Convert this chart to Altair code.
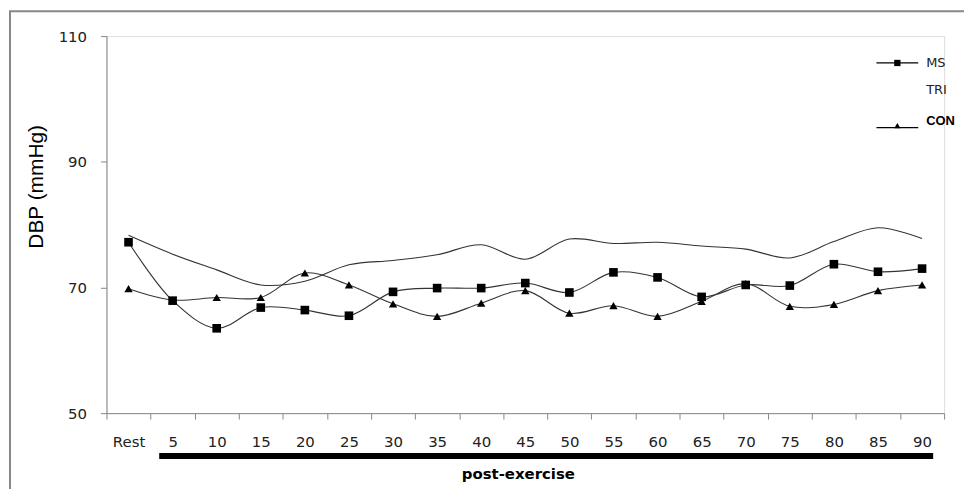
import altair as alt
import pandas as pd

categories = ["Rest", "5", "10", "15", "20", "25", "30", "35", "40", "45",
              "50", "55", "60", "65", "70", "75", "80", "85", "90"]
ms = [77.2, 67.9, 63.5, 66.8, 66.4, 65.5, 69.3, 69.9, 69.9, 70.7,
      69.2, 72.4, 71.6, 68.5, 70.4, 70.3, 73.7, 72.5, 73.0]
tri = [78.3, 75.3, 72.8, 70.4, 71.0, 73.6, 74.3, 75.2, 76.8, 74.5,
       77.7, 77.0, 77.2, 76.6, 76.1, 74.7, 77.3, 79.5, 77.8]
con = [69.8, 68.0, 68.4, 68.4, 72.3, 70.4, 67.4, 65.4, 67.5, 69.5,
       65.9, 67.1, 65.4, 67.8, 70.6, 67.0, 67.3, 69.5, 70.4]
y_ticks = [50, 70, 90, 110]

rows = []
for name, vals in (("MS", ms), ("TRI", tri), ("CON", con)):
    for c, v in zip(categories, vals):
        rows.append({"time": c, "dbp": v, "series": name})
df = pd.DataFrame(rows)
one = alt.Data(values=[{"k": 1}])

x_enc = alt.X("time:N", sort=categories, bandPosition=0.5,
              scale=alt.Scale(type="band", paddingInner=0, paddingOuter=0),
              axis=alt.Axis(title=None, tickBand="extent", labelAngle=0,
                            labelFont="DejaVu Sans", labelFontSize=15,
                            labelColor="#222", labelPadding=16, tickSize=6,
                            tickColor="#888", domainColor="#888", grid=False))
y_enc = alt.Y("dbp:Q", scale=alt.Scale(domain=[50, 110], nice=False, zero=False),
              axis=alt.Axis(values=y_ticks, title="DBP (mmHg)", grid=False,
                            labelFont="DejaVu Sans", labelFontSize=15,
                            labelColor="#222", labelPadding=14, tickSize=6,
                            tickColor="#888", domainColor="#888",
                            titleFont="Liberation Sans", titleFontSize=21,
                            titleFontWeight="normal", titleColor="#000",
                            titleAngle=270, titleX=-70, titleY=151,
                            titleAlign="center", titleBaseline="middle"))

base = alt.Chart(df)
lines = base.mark_line(interpolate="catmull-rom", color="#333", strokeWidth=1.1).encode(
    x=x_enc, y=y_enc, detail="series:N")
squares = base.transform_filter(alt.datum.series == "MS").mark_point(
    shape="square", filled=True, size=75, color="#000", opacity=1).encode(x=x_enc, y=y_enc)
tris = base.transform_filter(alt.datum.series == "CON").mark_point(
    shape="triangle-up", filled=True, size=70, color="#000", opacity=1).encode(x=x_enc, y=y_enc)

frame = alt.Chart(one).mark_rect(fill=None, stroke="#888", strokeWidth=2).encode(
    x=alt.value(-97), x2=alt.value(900), y=alt.value(-25), y2=alt.value(480))

leg_ms_line = alt.Chart(one).mark_rule(color="#000", strokeWidth=1.2).encode(
    x=alt.value(774), x2=alt.value(816), y=alt.value(27))
leg_ms_pt = alt.Chart(one).mark_point(shape="square", filled=True, size=40, color="#000", opacity=1).encode(
    x=alt.value(795), y=alt.value(27))
leg_ms_txt = alt.Chart(one).mark_text(align="left", baseline="middle", font="DejaVu Sans",
                                      fontSize=13, color="#222").encode(
    x=alt.value(824), y=alt.value(27), text=alt.value("MS"))
leg_tri_txt = alt.Chart(one).mark_text(align="left", baseline="middle", font="DejaVu Sans",
                                       fontSize=13, color="#222").encode(
    x=alt.value(824), y=alt.value(54), text=alt.value("TRI"))
leg_con_line = alt.Chart(one).mark_rule(color="#000", strokeWidth=1.2).encode(
    x=alt.value(774), x2=alt.value(816), y=alt.value(92))
leg_con_pt = alt.Chart(one).mark_point(shape="triangle-up", filled=True, size=40, color="#000", opacity=1).encode(
    x=alt.value(795), y=alt.value(90))
leg_con_txt = alt.Chart(one).mark_text(align="left", baseline="middle", font="Liberation Sans",
                                       fontSize=13, fontWeight="bold", color="#000").encode(
    x=alt.value(824), y=alt.value(85), text=alt.value("CON"))

bar = alt.Chart(one).mark_rule(color="#000", strokeWidth=6).encode(
    x=alt.value(53), x2=alt.value(831), y=alt.value(422))
post = alt.Chart(one).mark_text(align="center", baseline="middle", font="DejaVu Sans",
                                fontSize=15, fontWeight="bold", color="#000").encode(
    x=alt.value(414), y=alt.value(440), text=alt.value("post-exercise"))

chart = alt.layer(frame, lines, squares, tris, leg_ms_line, leg_ms_pt, leg_ms_txt,
                  leg_tri_txt, leg_con_line, leg_con_pt, leg_con_txt, bar, post).properties(
    width=842, height=379,
    padding={"left": 99, "top": 27, "right": 20, "bottom": 75},
    autosize=alt.AutoSizeParams(type="none"),
).configure_view(stroke=None).configure(background="#fff")

chart.save("out.html", embed_options={"renderer": "svg", "actions": False})
